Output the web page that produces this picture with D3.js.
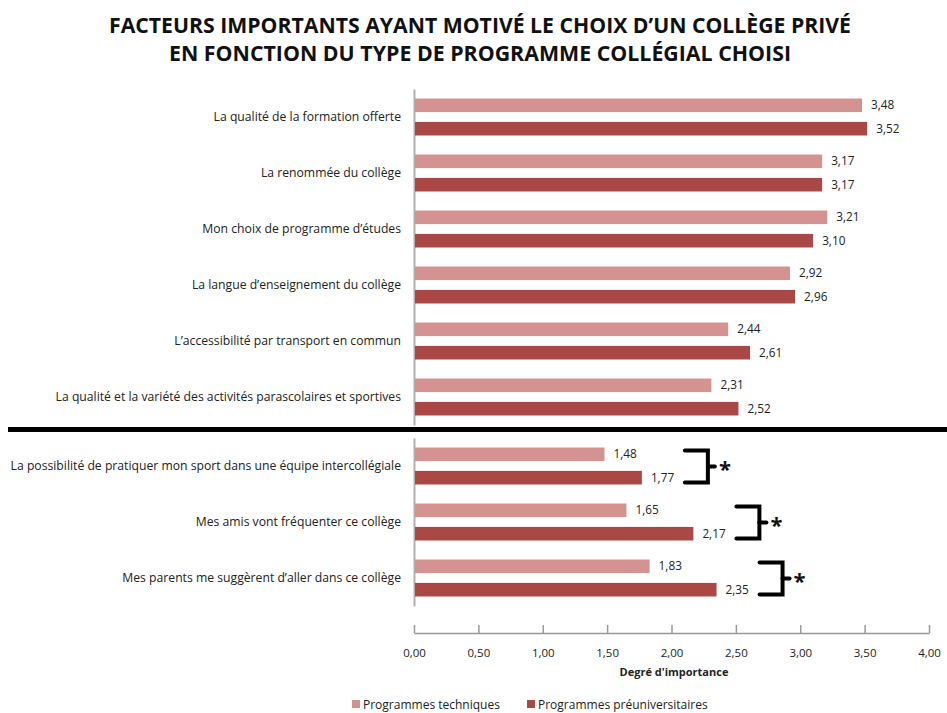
<!DOCTYPE html>
<html>
<head>
<meta charset="utf-8">
<script src="https://cdn.jsdelivr.net/npm/d3@7"></script>
<style>
  body { margin: 0; background: #fff; }
  svg { display: block; }
  text { font-family: "Open Sans", "Liberation Sans", Arial, sans-serif; }
</style>
</head>
<body>
<div id="chart"></div>
<script>
var titleLines = [
    "FACTEURS IMPORTANTS AYANT MOTIVÉ  LE CHOIX D\u2019UN COLLÈGE PRIVÉ",
    "EN FONCTION DU TYPE DE PROGRAMME COLLÉGIAL CHOISI"
];

// top panel
var upperCategories = [
    "La qualité de la formation offerte",
    "La renommée du collège",
    "Mon choix de programme d\u2019études",
    "La langue d\u2019enseignement  du collège",
    "L\u2019accessibilité par transport en commun",
    "La qualité et  la variété des activités parascolaires et sportives"
];
var upperTechniques = [3.48, 3.17, 3.21, 2.92, 2.44, 2.31];
var upperPreuniv = [3.52, 3.17, 3.10, 2.96, 2.61, 2.52];

// bottom panel (significant differences, marked with *)
var lowerCategories = [
    "La possibilité de pratiquer mon sport dans une équipe  intercollégiale",
    "Mes  amis vont fréquenter ce collège",
    "Mes parents me suggèrent d\u2019aller dans ce collège"
];
var lowerTechniques = [1.48, 1.65, 1.83];
var lowerPreuniv = [1.77, 2.17, 2.35];

var seriesNames = ["Programmes techniques", "Programmes préuniversitaires"];
var seriesColors = ["#d49391", "#aa4846"];
var xTicks = [0, 0.5, 1, 1.5, 2, 2.5, 3, 3.5, 4];
var axisTitle = "Degré d'importance";

var totalWidth = 947;
var totalHeight = 713;

var svg = d3.select('#chart').append('svg')
    .attr('width', totalWidth)
    .attr('height', totalHeight);

var fmt = function(v) { return d3.format('.2f')(v).replace('.', ','); };

// title
svg.selectAll('text.title')
    .data(titleLines)
    .enter()
    .append('text')
    .attr('class', 'title')
    .attr('x', 480)
    .attr('y', (d, i) => 33 + i * 28)
    .attr('text-anchor', 'middle')
    .attr('font-family', '"Liberation Sans Narrow", "Liberation Sans", sans-serif')
    .attr('font-weight', 'bold')
    .attr('font-size', 22)
    .attr('textLength', (d, i) => i === 0 ? 742 : 622)
    .attr('lengthAdjust', 'spacingAndGlyphs')
    .attr('fill', '#111')
    .text(d => d);

var xScale = d3.scaleLinear().domain([0, 4]).range([414, 929]);

function drawPanel(categories, techniques, preuniv, yRange, marked) {
    var rows = categories.map(function(c, i) {
        return { name: c, values: [techniques[i], preuniv[i]] };
    });

    var y0 = d3.scaleBand()
        .domain(categories)
        .range(yRange)
        .paddingInner(0.34)
        .paddingOuter(0.17);

    var y1 = d3.scaleBand()
        .domain([0, 1])
        .range([0, y0.bandwidth()])
        .paddingInner(0.42);

    var g = svg.append('g');

    // vertical axis line + category labels
    var yAxis = d3.axisLeft(y0).tickSize(0).tickPadding(13);
    var yAxisGroup = g.append('g')
        .attr('transform', 'translate(' + xScale(0) + ',0)')
        .call(yAxis);
    yAxisGroup.select('.domain').attr('stroke', '#b0b0b0').attr('stroke-width', 2);
    yAxisGroup.selectAll('text')
        .attr('fill', '#222')
        .attr('font-size', 12.2)
        .attr('font-family', '"Open Sans", Arial, sans-serif');

    var rowGroups = g.selectAll('g.row')
        .data(rows)
        .enter()
        .append('g')
        .attr('class', 'row')
        .attr('transform', d => 'translate(0,' + y0(d.name) + ')');

    rowGroups.selectAll('rect')
        .data(d => d.values)
        .enter()
        .append('rect')
        .attr('x', xScale(0) + 1)
        .attr('y', (d, i) => y1(i))
        .attr('width', d => xScale(d) - xScale(0) - 1)
        .attr('height', y1.bandwidth())
        .attr('fill', (d, i) => seriesColors[i]);

    rowGroups.selectAll('text.val')
        .data(d => d.values)
        .enter()
        .append('text')
        .attr('class', 'val')
        .attr('x', d => xScale(d) + 9)
        .attr('y', (d, i) => y1(i) + y1.bandwidth() / 2)
        .attr('dy', '0.35em')
        .attr('font-size', 11.8)
        .attr('fill', '#222')
        .text(d => fmt(d));

    if (marked) {
        // significance brackets
        rowGroups.each(function(d) {
            var grp = d3.select(this);
            var bx = xScale(d.values[1]) + 43;
            var top = y1(0) + 3;
            var bottom = y1(1) + y1.bandwidth() - 2;
            var mid = (top + bottom) / 2;
            var w = 23;
            grp.append('path')
                .attr('d', 'M' + bx + ',' + top + 'H' + (bx + w) + 'V' + bottom + 'H' + bx)
                .attr('fill', 'none')
                .attr('stroke', '#000')
                .attr('stroke-width', 4)
                .attr('stroke-linecap', 'round')
                .attr('stroke-linejoin', 'miter');
            grp.append('line')
                .attr('x1', bx + w).attr('x2', bx + w + 7)
                .attr('y1', mid).attr('y2', mid)
                .attr('stroke', '#000')
                .attr('stroke-width', 4)
                .attr('stroke-linecap', 'round');
            grp.append('text')
                .attr('x', bx + w + 11)
                .attr('y', mid + 11)
                .attr('font-size', 22)
                .attr('font-weight', 'bold')
                .attr('font-family', '"Liberation Sans", Arial, sans-serif')
                .attr('fill', '#111')
                .text('*');
        });
    }
}

drawPanel(upperCategories, upperTechniques, upperPreuniv, [89, 425], false);
drawPanel(lowerCategories, lowerTechniques, lowerPreuniv, [438, 606], true);

// separator between the two groups
svg.append('line')
    .attr('x1', 8).attr('x2', totalWidth)
    .attr('y1', 429.5).attr('y2', 429.5)
    .attr('stroke', '#000')
    .attr('stroke-width', 5);

// x axis
var xAxis = d3.axisTop(xScale)
    .tickValues(xTicks)
    .tickSizeInner(8)
    .tickSizeOuter(0)
    .tickFormat(fmt);
var xAxisGroup = svg.append('g')
    .attr('transform', 'translate(0,633)')
    .call(xAxis);
xAxisGroup.select('.domain').attr('stroke', '#999').attr('stroke-width', 1.5);
xAxisGroup.selectAll('line').attr('stroke', '#999').attr('stroke-width', 1.5);
xAxisGroup.selectAll('text')
    .attr('y', 24)
    .attr('fill', '#222')
    .attr('font-size', 11.5)
    .attr('font-family', '"Open Sans", Arial, sans-serif');

svg.append('text')
    .attr('x', 674)
    .attr('y', 676)
    .attr('text-anchor', 'middle')
    .attr('font-size', 11)
    .attr('font-weight', 'bold')
    .attr('fill', '#222')
    .text(axisTitle);

// legend
var legendX = [352, 527];
var legend = svg.selectAll('g.legend')
    .data(seriesNames)
    .enter()
    .append('g')
    .attr('class', 'legend')
    .attr('transform', (d, i) => 'translate(' + legendX[i] + ',700)');
legend.append('rect')
    .attr('width', 8).attr('height', 8)
    .attr('fill', (d, i) => seriesColors[i]);
legend.append('text')
    .attr('x', 11)
    .attr('y', 8.5)
    .attr('font-size', 12)
    .attr('fill', '#222')
    .text(d => d);
</script>
</body>
</html>
